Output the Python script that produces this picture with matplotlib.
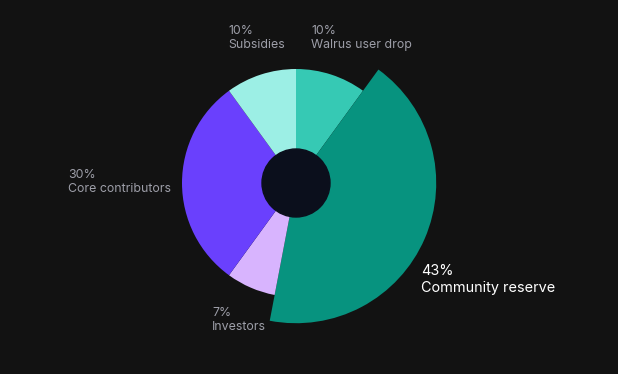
import matplotlib.pyplot as plt

# slices, clockwise from 12 o'clock
labels = ['Walrus user drop', 'Community reserve', 'Investors', 'Core contributors', 'Subsidies']
shares = [10, 43, 7, 30, 10]
colors = ['#36c9b4', '#07937f', '#d8b4fe', '#6a40fd', '#9cefe5']

bg = '#121212'
fig = plt.figure(figsize=(6.18, 3.74), dpi=100, facecolor=bg)
ax = fig.add_axes([0, 0, 1, 1])
ax.set_facecolor(bg)

cx, cy = 296, 374 - 183
r = 114
wedges, _ = ax.pie(shares, colors=colors, startangle=90, counterclock=False,
                   center=(cx, cy), radius=r, frame=True,
                   wedgeprops=dict(linewidth=0))
# community reserve sticks out
wedges[1].set_radius(r * 1.23)
ax.set_xlim(0, 618)
ax.set_ylim(0, 374)
ax.set_aspect('equal')
ax.axis('off')

hole = plt.Circle((cx, cy), 34, color='#0b0f1c', zorder=5)
ax.add_patch(hole)

grey = '#9d9ea8'
font = ['Inter', 'DejaVu Sans']
# label anchors (left / top) in pixel coords
pos = {
    'Walrus user drop': (311, 25),
    'Community reserve': (421, 264),
    'Investors': (212, 307),
    'Core contributors': (68, 169),
    'Subsidies': (228, 25),
}
for lab, s in zip(labels, shares):
    x, y = pos[lab]
    big = lab == 'Community reserve'
    ax.text(x, 374 - y, f'{s}%\n{lab}', ha='left', va='top',
            color='white' if big else grey, fontsize=10.4 if big else 8.9,
            family=font, linespacing=1.25)

fig.savefig('out.png', dpi=100, facecolor=bg)
